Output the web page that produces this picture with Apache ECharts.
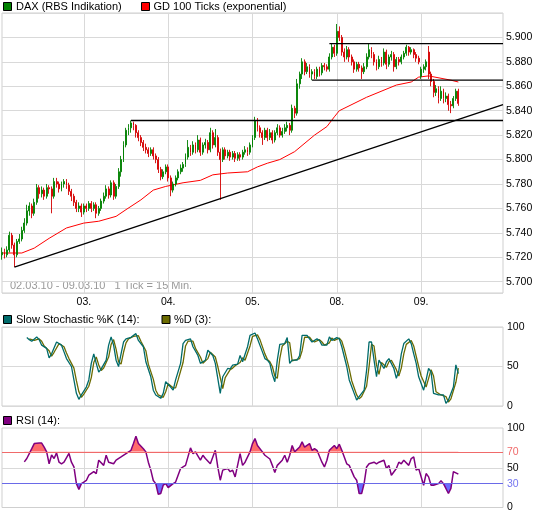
<!DOCTYPE html>
<html>
<head>
<meta charset="utf-8">
<script src="https://cdn.jsdelivr.net/npm/echarts@6/dist/echarts.min.js"></script>
<style>
html,body{margin:0;padding:0;background:#fff;}
#chart{width:545px;height:516px;}
</style>
</head>
<body>
<div id="chart"></div>
<script>
// ---------- DATA ----------
const days = ['02.03.', '03.03.', '04.03.', '05.03.', '08.03.', '09.03.'];
const ticksPerDay = 34;            // 15-min ticks per trading day (09:00 - 17:15)
const yTickLabels = ['5.700','5.720','5.740','5.760','5.780','5.800','5.820','5.840','5.860','5.880','5.900'];
const rsiTickLabels = ['0', '30', '50', '70', '100'];

// DAX candles [open, close, low, high], one per 15-min slot
const dax = [
[5722,5724,5718,5728],[5724,5722,5719,5727],[5722,5726,5720,5729],[5726,5738,5724,5741],[5738,5730,5727,5740],
[5730,5722,5712,5732],[5722,5733,5720,5735],[5733,5735,5731,5739],[5735,5742,5733,5745],[5742,5748,5740,5752],
[5748,5758,5746,5763],[5758,5762,5754,5765],[5762,5756,5752,5764],[5756,5765,5754,5768],[5765,5777,5763,5780],
[5777,5772,5768,5779],[5772,5775,5769,5778],[5775,5770,5767,5777],[5770,5777,5768,5780],[5777,5776,5772,5779],
[5776,5770,5756,5778],[5770,5782,5768,5785],[5782,5780,5777,5785],[5780,5776,5773,5782],[5776,5780,5774,5782],
[5780,5782,5777,5784],[5782,5779,5776,5784],[5779,5774,5771,5781],[5774,5770,5766,5776],[5770,5765,5762,5772],
[5765,5760,5757,5767],[5760,5762,5757,5765],[5762,5757,5753,5764],[5757,5762,5755,5764],[5762,5760,5757,5764],
[5760,5764,5758,5766],[5764,5760,5757,5766],[5760,5763,5758,5765],[5763,5756,5752,5765],[5756,5760,5754,5762],
[5760,5766,5758,5768],[5766,5770,5764,5773],[5770,5776,5768,5779],[5776,5771,5768,5778],[5771,5781,5769,5783],
[5781,5770,5767,5783],[5770,5778,5768,5780],[5778,5790,5776,5793],[5790,5800,5786,5803],[5800,5812,5798,5815],
[5812,5824,5810,5826],[5824,5826,5820,5829],[5826,5830,5822,5832],[5830,5828,5824,5831],[5828,5822,5818,5829],
[5822,5818,5815,5824],[5818,5814,5811,5820],[5814,5810,5807,5816],[5810,5808,5805,5813],[5808,5805,5802,5810],
[5805,5808,5803,5810],[5808,5803,5800,5810],[5803,5800,5797,5805],[5800,5792,5789,5802],[5792,5786,5783,5794],
[5786,5790,5784,5792],[5790,5794,5788,5796],[5794,5785,5782,5796],[5785,5775,5770,5787],[5775,5780,5773,5782],
[5780,5785,5778,5787],[5785,5790,5783,5792],[5790,5793,5788,5796],[5793,5796,5790,5798],[5796,5802,5794,5805],
[5802,5810,5800,5816],[5810,5806,5803,5812],[5806,5812,5804,5815],[5812,5808,5805,5814],[5808,5816,5806,5820],
[5816,5806,5803,5818],[5806,5812,5804,5814],[5812,5814,5809,5817],[5814,5808,5805,5816],[5808,5822,5806,5826],
[5822,5812,5809,5824],[5812,5818,5810,5825],[5818,5806,5803,5820],[5806,5800,5767,5809],[5800,5808,5798,5810],
[5808,5803,5800,5810],[5803,5806,5801,5808],[5806,5802,5799,5808],[5802,5805,5800,5807],[5805,5801,5798,5807],
[5801,5804,5799,5806],[5804,5802,5799,5806],[5802,5806,5800,5808],[5806,5808,5804,5811],[5808,5806,5803,5810],
[5806,5812,5804,5814],[5812,5818,5810,5820],[5818,5832,5816,5835],[5832,5826,5823,5834],[5826,5822,5818,5828],
[5822,5818,5812,5824],[5818,5824,5816,5826],[5824,5818,5815,5826],[5818,5822,5816,5825],[5822,5816,5813,5824],
[5816,5822,5814,5824],[5822,5826,5820,5829],[5826,5820,5818,5828],[5820,5823,5818,5826],[5823,5826,5821,5829],
[5826,5828,5823,5831],[5828,5824,5820,5830],[5824,5842,5822,5845],[5842,5838,5834,5844],[5838,5862,5836,5866],
[5862,5870,5858,5872],[5870,5880,5866,5883],[5880,5872,5869,5882],[5872,5876,5870,5879],[5876,5870,5867,5878],
[5870,5872,5865,5874],[5872,5868,5866,5874],[5868,5874,5866,5876],[5874,5871,5868,5876],[5871,5877,5869,5879],
[5877,5876,5873,5879],[5876,5874,5872,5878],[5874,5884,5872,5887],[5884,5892,5882,5895],[5892,5887,5884,5894],
[5887,5905,5885,5911],[5905,5900,5897,5909],[5900,5888,5885,5902],[5888,5884,5880,5891],[5884,5890,5882,5893],
[5890,5884,5880,5892],[5884,5880,5877,5886],[5880,5874,5871,5882],[5874,5878,5872,5880],[5878,5875,5872,5880],
[5875,5872,5866,5877],[5872,5876,5870,5879],[5876,5884,5874,5887],[5884,5890,5882,5895],[5890,5886,5883,5892],
[5886,5880,5877,5888],[5880,5876,5873,5882],[5876,5882,5874,5885],[5882,5879,5876,5884],[5879,5888,5877,5891],
[5888,5878,5874,5890],[5878,5884,5876,5886],[5884,5886,5881,5889],[5886,5876,5872,5888],[5876,5882,5874,5884],
[5882,5880,5877,5884],[5880,5884,5878,5886],[5884,5887,5882,5889],[5887,5892,5885,5894],[5892,5888,5885,5893],
[5888,5890,5886,5892],[5890,5886,5883,5891],[5886,5883,5880,5888],[5883,5880,5878,5885],[5868,5874,5866,5876],
[5874,5876,5871,5878],[5876,5880,5873,5882],[5888,5870,5866,5893],[5870,5864,5860,5872],[5864,5855,5851,5866],
[5855,5858,5852,5861],[5858,5850,5846,5860],[5850,5856,5848,5860],[5856,5850,5846,5858],[5850,5852,5847,5855],
[5852,5845,5840,5854],[5845,5844,5838,5848],[5844,5850,5842,5852],[5850,5856,5848,5858],[5856,5846,5844,5858]
];

// GD 100 (exponential), read at slot positions [slot, value]
const ema = [[0,5723.5],[8,5723.5],[13,5727.5],[19,5735.5],[26,5744],[33,5748],[39,5749.5],[46,5753.5],
[50,5759],[56,5767],[61,5775],[66,5778],[73,5781],[80,5783],[85,5787.5],[91,5789],[99,5790],[103,5794],
[107,5797],[112,5800],[118,5806.5],[126,5820],[131,5827],[134,5835],[136,5840],[147,5851],[159,5861],
[165,5863.5],[168,5867.5],[172,5868.5],[181,5865],[184,5863.5]];

// drawn trend / support lines [slot, value]
const trendLine = [[5,5712],[202,5845]];
const support1 = [[52,5832],[202,5832]];
const support2 = [[125,5865],[202,5865]];
const resistance = [[132,5895],[202,5895]];

// Slow stochastic %K (14) and %D (3), [slot, value]
const stochK = [[10,86.6],[11,84],[12,82],[14,87.4],[15,84],[16,77],[18,73],[19,61],[20,66],[22,81],[24,77],[25,68.5],[26,60],[28,50],[29,33],[30,16],[31,8.4],[32,14],[34,24],[35,33],[36,54],[37,66],[38,54],[39,43],[40,47],[42,58],[43,77],[44,87.4],[45,77],[46,58],[47,50],[48,66],[49,81],[50,85],[52,87],[54,91.6],[55,83],[57,75],[58,56],[60,37],[61,20],[62,14],[64,9.7],[65,16],[66,30.7],[68,24],[69,20],[70,33],[72,54],[73,79],[74,83],[76,85],[77,75],[79,64],[80,54],[82,58],[83,70.6],[85,64],[86,54],[88,16],[89,37],[91,47.5],[92,47],[93,51.7],[95,53],[96,64],[97,56],[99,75],[100,89.5],[102,92.4],[103,85],[105,68.5],[106,60],[107,58],[108,54],[109,40],[110,30.7],[111,58],[112,78],[114,79],[115,86.6],[116,54],[117,58],[119,58],[120,64],[121,89.5],[123,89.5],[124,85],[125,81],[127,85],[128,83],[129,77],[131,77],[132,87.4],[133,83],[135,86.6],[136,85],[137,75],[139,50],[140,33],[142,16],[143,7.6],[144,11.8],[146,20],[147,45],[148,81],[149,81],[150,58],[151,37],[152,58],[154,47.5],[155,56],[156,60],[158,47.5],[159,35],[160,45],[161,66],[162,79],[164,85],[165,79],[166,66],[167,54],[168,37],[170,20],[171,33],[172,47.5],[173,43],[174,16],[176,14],[178,14],[179,3.4],[180,7.6],[182,24],[183,52],[184,41]];
const stochD = [[11,85],[12,84],[13,83],[15,85],[16,82],[17,76],[19,70],[20,63],[21,68],[23,79],[25,75],[26,67],[27,60],[29,48],[30,32],[31,18],[32,11],[33,15],[35,25],[36,36],[37,55],[38,62],[39,52],[40,45],[41,48],[43,62],[44,78],[45,84],[46,72],[47,56],[48,53],[49,68],[50,80],[51,85],[53,88],[55,89],[56,82],[58,70],[59,53],[61,34],[62,20],[63,14],[65,11],[66,18],[67,28],[69,23],[70,23],[71,33],[73,55],[74,76],[75,82],[77,82],[78,73],[80,62],[81,54],[83,60],[84,68],[86,62],[87,50],[89,22],[90,36],[92,46],[93,48],[94,51],[96,55],[97,61],[98,58],[100,76],[101,88],[103,90],[104,84],[106,66],[107,59],[108,56],[109,50],[110,38],[111,35],[112,60],[113,76],[115,82],[116,80],[117,57],[118,58],[120,60],[121,70],[122,87],[124,87],[125,83],[126,81],[128,84],[129,81],[130,77],[132,80],[133,86],[134,83],[136,86],[137,82],[138,72],[140,47],[141,32],[143,14],[144,9],[145,12],[147,25],[148,50],[149,78],[150,76],[151,52],[152,40],[153,55],[155,49],[156,56],[157,58],[159,46],[160,38],[161,48],[162,66],[163,78],[165,83],[166,76],[167,63],[168,50],[169,38],[171,24],[172,35],[173,46],[174,38],[175,18],[177,14],[179,12],[180,5],[181,9],[183,30],[184,48]];

// RSI (14), [slot, value]
const rsi = [[9,57.4],[10,61.6],[11,67.8],[12,74],[13,80.4],[15,81],[16,81],[17,76],[18,70],[19,55],[20,66],[21,61.6],[22,68.7],[23,57],[24,55],[25,57],[27,68],[28,57],[29,51],[30,30],[31,22.6],[32,30],[33,32],[34,34],[35,40.6],[37,45],[38,42.7],[39,59.5],[41,53],[42,65.7],[43,57],[45,55],[46,59.5],[48,63.6],[50,67.8],[52,72],[53,80.4],[54,89.6],[55,80.4],[57,74],[58,70],[59,57],[60,47],[61,34],[62,30],[63,16.7],[64,17.6],[65,28],[66,30],[67,25],[69,30],[70,32],[72,49],[73,51],[74,53],[76,75],[77,67.8],[78,70],[80,59.5],[81,65.7],[82,61.6],[84,55],[86,72],[87,51],[88,34.3],[89,47],[91,49],[92,45],[93,47],[94,38.5],[96,67.8],[97,53],[98,57],[100,70],[101,80.4],[102,86.7],[103,78],[105,70],[106,65.7],[108,61],[109,53],[110,44],[111,53],[113,59.5],[114,65.7],[115,57],[116,65.7],[117,78],[118,70],[120,76],[121,82.5],[122,76],[124,80.4],[125,72],[126,74],[127,72],[129,57],[130,51],[131,59.5],[132,72],[134,78],[135,74],[136,79.6],[137,72],[138,63.6],[139,55],[140,53],[142,38.5],[143,34.3],[144,17.6],[145,17.6],[146,30],[147,51],[148,55],[150,57],[151,55],[152,57],[154,59.5],[155,49],[156,53],[157,40.6],[159,49],[160,57],[161,55],[162,59.5],[164,53],[165,61.6],[166,63.6],[167,47],[168,49],[170,28],[171,42.7],[172,38.5],[173,28],[174,28],[176,30],[177,33.5],[178,30],[180,17.6],[181,24],[182,45],[183,43.6],[184,42]];
const rsiUpper = 70, rsiLower = 30, rsiMid = 50;

// ---------- BUILD ----------
function slotTime(k) {
  const m = 9 * 60 + 15 * k;
  return String(Math.floor(m / 60)).padStart(2, '0') + ':' + String(m % 60).padStart(2, '0');
}
const categories = [];
days.forEach((d, di) => {
  for (let k = (di === 0 ? 1 : 0); k < ticksPerDay; k++) categories.push(d + ' ' + slotTime(k));
});
const isDayStart = (i, v) => String(v).endsWith(' 09:00');

const FONT = '"Liberation Sans", Arial, sans-serif';
const GRID_C = '#d9d9d9';

function xAx(gi, showLabel) {
  return {
    type: 'category', gridIndex: gi, data: categories, boundaryGap: false,
    axisLine: { show: false }, axisTick: { show: false },
    axisLabel: {
      show: showLabel, interval: isDayStart, formatter: v => v.slice(0, 3),
      color: '#000', fontSize: 10.5, fontFamily: FONT, margin: 4
    },
    splitLine: { show: gi <= 2, interval: isDayStart, lineStyle: { color: GRID_C, width: 1 } }
  };
}

const chart = echarts.init(document.getElementById('chart'), null, { renderer: 'canvas' });

const option = {
  animation: false,
  backgroundColor: '#fff',
  grid: [
    { left: 2, top: 13, width: 501, height: 280, show: true, borderColor: '#cfcfcf', borderWidth: 1, backgroundColor: 'transparent' },
    { left: 2, top: 327, width: 501, height: 79, show: true, borderColor: '#cfcfcf', borderWidth: 1 },
    { left: 2, top: 428, width: 501, height: 79.5, show: true, borderColor: '#cfcfcf', borderWidth: 1 },
    { left: 2, top: 428, width: 501, height: 23.85, show: false },
    { left: 2, top: 483.65, width: 501, height: 23.85, show: false }
  ],
  xAxis: [xAx(0, true), xAx(1, false), xAx(2, false), xAx(3, false), xAx(4, false)],
  yAxis: [
    {
      type: 'value', gridIndex: 0, position: 'right', min: 5690.75, max: 5920,
      splitNumber: 11, minInterval: 20, maxInterval: 20,
      axisLine: { show: false }, axisTick: { show: false },
      axisLabel: {
        showMinLabel: false, showMaxLabel: false, margin: 3,
        formatter: v => { const i = yTickLabels.indexOf((v / 1000).toFixed(3)); return i >= 0 ? yTickLabels[i] : ''; },
        color: '#000', fontSize: 10.5, fontFamily: FONT
      },
      splitLine: { show: true, lineStyle: { color: GRID_C } }
    },
    {
      type: 'value', gridIndex: 1, position: 'right', min: 0, max: 100, interval: 50,
      axisLine: { show: false }, axisTick: { show: false },
      axisLabel: { margin: 4, color: '#000', fontSize: 10.5, fontFamily: FONT },
      splitLine: { show: true, lineStyle: { color: GRID_C } }
    },
    {
      type: 'value', gridIndex: 2, position: 'right', min: 0, max: 100, interval: 10,
      axisLine: { show: false }, axisTick: { show: false },
      axisLabel: {
        margin: 4, fontSize: 10.5, fontFamily: FONT,
        formatter: v => rsiTickLabels.includes(String(v)) ? String(v) : '',
        color: v => Number(v) === rsiUpper ? '#f06a6a' : Number(v) === rsiLower ? '#7575f0' : '#000'
      },
      splitLine: { show: false }
    },
    { type: 'value', gridIndex: 3, min: rsiUpper, max: 100, show: false },
    { type: 'value', gridIndex: 4, min: 0, max: rsiLower, show: false }
  ],
  series: [
    {
      name: 'GD 100 Ticks (exponential)', type: 'line', xAxisIndex: 0, yAxisIndex: 0,
      data: ema, symbol: 'none', lineStyle: { color: '#ff0000', width: 1 }, z: 2
    },
    {
      name: 'DAX (RBS Indikation)', type: 'candlestick', xAxisIndex: 0, yAxisIndex: 0,
      data: dax, barWidth: 1.4,
      itemStyle: { color: '#008a00', color0: '#e00000', borderColor: '#008000', borderColor0: '#d40000', borderWidth: 0.9 },
      z: 3
    },
    { type: 'line', xAxisIndex: 0, yAxisIndex: 0, data: trendLine, symbol: 'none', lineStyle: { color: '#000', width: 1.3 }, z: 4 },
    { type: 'line', xAxisIndex: 0, yAxisIndex: 0, data: support1, symbol: 'none', lineStyle: { color: '#000', width: 1.3 }, z: 4 },
    { type: 'line', xAxisIndex: 0, yAxisIndex: 0, data: support2, symbol: 'none', lineStyle: { color: '#000', width: 1.3 }, z: 4 },
    { type: 'line', xAxisIndex: 0, yAxisIndex: 0, data: resistance, symbol: 'none', lineStyle: { color: '#000', width: 1.3 }, z: 4 },

    { name: '%D (3)', type: 'line', xAxisIndex: 1, yAxisIndex: 1, data: stochD, symbol: 'none', lineStyle: { color: '#6b6b00', width: 1.3 }, z: 3 },
    { name: 'Slow Stochastic %K (14)', type: 'line', xAxisIndex: 1, yAxisIndex: 1, data: stochK, symbol: 'none', lineStyle: { color: '#006b6b', width: 1.3 }, z: 4 },

    { type: 'line', xAxisIndex: 3, yAxisIndex: 3, data: rsi, symbol: 'none', clip: true,
      lineStyle: { width: 0, opacity: 0 }, areaStyle: { color: '#ff6b6b', opacity: 1, origin: 'start' }, z: 1 },
    { type: 'line', xAxisIndex: 4, yAxisIndex: 4, data: rsi, symbol: 'none', clip: true,
      lineStyle: { width: 0, opacity: 0 }, areaStyle: { color: '#6b6bff', opacity: 1, origin: 'end' }, z: 1 },
    {
      name: 'RSI (14)', type: 'line', xAxisIndex: 2, yAxisIndex: 2, data: rsi, symbol: 'none',
      lineStyle: { color: '#800080', width: 1.5 }, z: 4,
      markLine: {
        silent: true, symbol: 'none', label: { show: false },
        data: [
          { yAxis: rsiMid, lineStyle: { color: GRID_C, width: 1, type: 'solid' } },
          { yAxis: rsiUpper, lineStyle: { color: '#f06a6a', width: 1.2, type: 'solid' } },
          { yAxis: rsiLower, lineStyle: { color: '#6a6ae8', width: 1.2, type: 'solid' } }
        ]
      }
    }
  ],
  graphic: [
    { type: 'rect', shape: { x: 3.5, y: 2.5, width: 8, height: 8 }, style: { fill: '#008000', stroke: '#000', lineWidth: 1 } },
    { type: 'text', x: 16, y: 7, style: { text: 'DAX (RBS Indikation)', fill: '#000', font: '11px ' + FONT, verticalAlign: 'middle' } },
    { type: 'rect', shape: { x: 141.5, y: 2.5, width: 8, height: 8 }, style: { fill: '#ff0000', stroke: '#000', lineWidth: 1 } },
    { type: 'text', x: 153.5, y: 7, style: { text: 'GD 100 Ticks (exponential)', fill: '#000', font: '11px ' + FONT, verticalAlign: 'middle' } },
    { type: 'text', x: 10, y: 286, style: { text: '02.03.10 - 09.03.10   1 Tick = 15 Min.', fill: '#9a9a9a', font: '11px ' + FONT, verticalAlign: 'middle' } },
    { type: 'rect', shape: { x: 3.5, y: 315.5, width: 8, height: 8 }, style: { fill: '#006b6b', stroke: '#000', lineWidth: 1 } },
    { type: 'text', x: 16, y: 320, style: { text: 'Slow Stochastic %K (14):', fill: '#000', font: '11px ' + FONT, verticalAlign: 'middle' } },
    { type: 'rect', shape: { x: 162, y: 315.5, width: 8, height: 8 }, style: { fill: '#6b6b00', stroke: '#000', lineWidth: 1 } },
    { type: 'text', x: 174, y: 320, style: { text: '%D (3):', fill: '#000', font: '11px ' + FONT, verticalAlign: 'middle' } },
    { type: 'rect', shape: { x: 3.5, y: 416.5, width: 8, height: 8 }, style: { fill: '#800080', stroke: '#000', lineWidth: 1 } },
    { type: 'text', x: 16, y: 421, style: { text: 'RSI (14):', fill: '#000', font: '11px ' + FONT, verticalAlign: 'middle' } }
  ]
};
chart.setOption(option);
</script>
</body>
</html>
